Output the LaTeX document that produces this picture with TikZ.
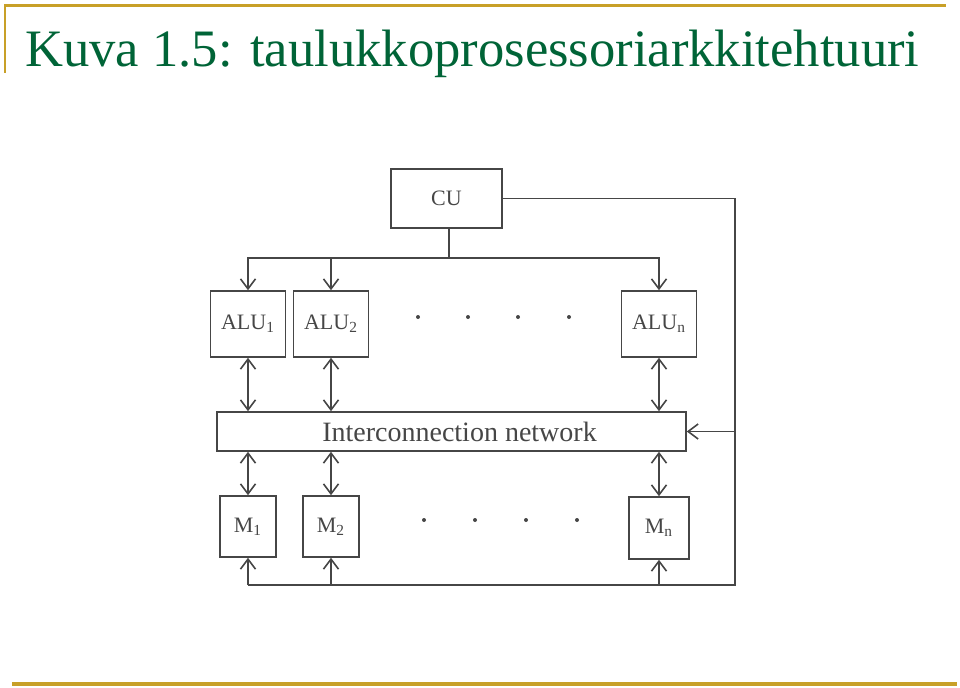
\documentclass[tikz,border=0pt]{standalone}
\usepackage{fontspec}
\setmainfont{Liberation Serif}
\usetikzlibrary{arrows.meta}
\definecolor{titlegreen}{RGB}{0,100,55}
\definecolor{rulegold}{RGB}{200,160,40}
\definecolor{ink}{RGB}{70,70,70}

\begin{document}
\begin{tikzpicture}[x=0.5pt, y=-0.5pt,
    unit/.style={draw=ink, line width=0.8pt, text=ink, inner sep=0pt,
      font=\fontsize{11}{13}\selectfont},
    alubox/.style={unit, minimum width=37.5pt, minimum height=33pt},
    membox/.style={unit, minimum width=28pt, minimum height=30.5pt},
    link/.style={draw=ink, line width=0.8pt},
    tip/.style={-{Straight Barb[length=5pt,width=7.5pt]}},
    both/.style={{Straight Barb[length=5pt,width=7.5pt]}-{Straight Barb[length=5pt,width=7.5pt]}}]
  \useasboundingbox (0,0) rectangle (960,687);
  % slide frame
  \draw[rulegold, line width=1.5pt] (4,5) -- (946,5);
  \draw[rulegold, line width=1pt] (4.5,5) -- (4.5,73);
  \draw[rulegold, line width=2pt] (12,684) -- (957,684);
  \node[anchor=base west, inner sep=0pt, text=titlegreen,
    font=\fontsize{26.3}{30}\selectfont] (title) at (25,66)
    {Kuva 1.5: taulukkoprosessoriarkkitehtuuri};

  % units
  \node[unit, minimum width=55.5pt, minimum height=29.5pt] (cu) at (446.5,198.5) {CU};
  \node[alubox] (alu1) at (248,324) {ALU\textsubscript{1}};
  \node[alubox] (alu2) at (331,324) {ALU\textsubscript{2}};
  \node[alubox] (alun) at (659,324) {ALU\textsubscript{n}};
  \node[unit, minimum width=234.5pt, minimum height=19.5pt,
    font=\fontsize{14}{16}\selectfont] (net) at (451.5,431.5)
    {\hspace*{8pt}Interconnection network};
  \node[membox] (m1) at (248,526.5) {M\textsubscript{1}};
  \node[membox] (m2) at (331,526.5) {M\textsubscript{2}};
  \node[membox, minimum width=30pt, minimum height=31pt] (mn) at (659,528) {M\textsubscript{n}};
  \coordinate (bus) at (449,258);
  \coordinate (corner) at (735,585);

  % connections
  \draw[link] (cu.south -| bus) -- (bus);
  \foreach \a/\m in {alu1/m1, alu2/m2, alun/mn} {
    \draw[link, tip] (bus) -| (\a);
    \draw[link, both] (\a) -- (\a |- net.north);
    \draw[link, both] (\a |- net.south) -- (\m);
    \draw[link, tip] (\m |- corner) -- (\m);
  }
  \draw[link] (cu.east) -| (corner) -- (m1 |- corner);
  \draw[link, tip] (net.east -| corner) -- (net.east);

  % dots
  \foreach \x in {418, 468, 518, 569}
    \fill[ink] (\x,317) circle (1pt);
  \foreach \x in {424, 475, 526, 577}
    \fill[ink] (\x,520) circle (1pt);
\end{tikzpicture}
\end{document}
